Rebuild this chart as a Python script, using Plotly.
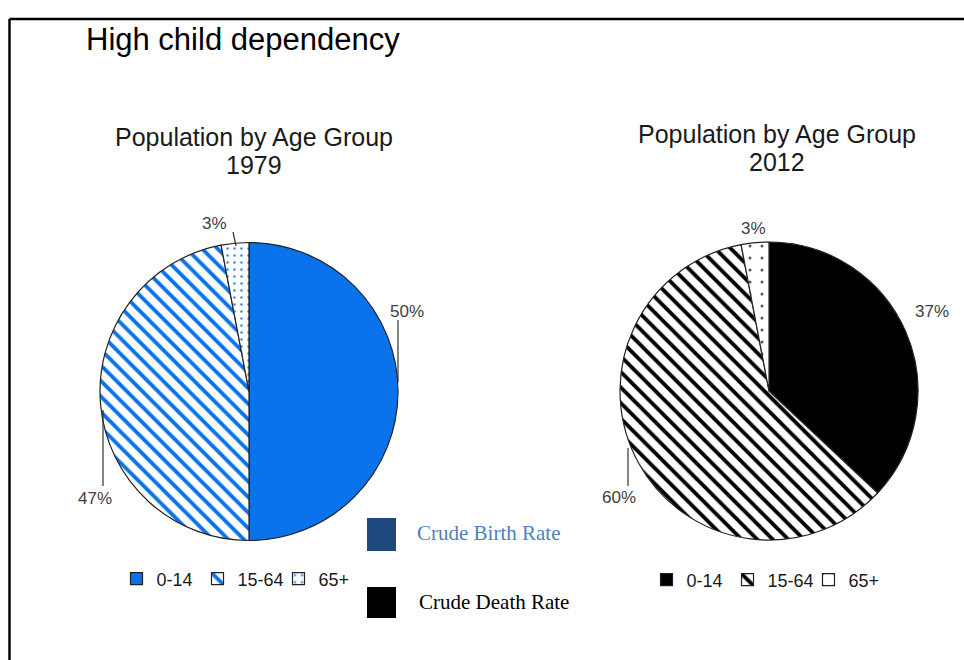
import plotly.graph_objects as go

W, H = 964, 660

groups = ["0-14", "15-64", "65+"]
share_1979 = [50, 47, 3]
share_2012 = [37, 60, 3]
title_main = "High child dependency"
sub_1979 = ["Population by Age Group", "1979"]
sub_2012 = ["Population by Age Group", "2012"]
key_labels = ["Crude Birth Rate", "Crude Death Rate"]


def px(x):
    return x / W


def py(y):
    return 1 - y / H


blue = "#0A72EA"
fig = go.Figure()

fig.add_trace(go.Pie(
    labels=groups, values=share_1979, sort=False, direction="clockwise", rotation=0,
    textinfo="none", hoverinfo="label+percent",
    domain=dict(x=[px(100), px(398)], y=[py(541), py(242)]),
    marker=dict(
        colors=[blue, "white", "white"],
        line=dict(color="#222222", width=1.2),
        pattern=dict(shape=["", "\\", "."], fgcolor=[blue, blue, "#3C86E6"],
                     bgcolor=[blue, "white", "white"], size=[10, 11, 7],
                     solidity=[0.3, 0.35, 0.1], fillmode="replace"),
    ),
    legend="legend", showlegend=True,
))

# zero-width space keeps the second pie's legend entries separate from the first
fig.add_trace(go.Pie(
    labels=[g + "\u200b" for g in groups], values=share_2012, sort=False,
    direction="clockwise", rotation=0,
    textinfo="none", hoverinfo="label+percent",
    domain=dict(x=[px(620), px(918)], y=[py(541), py(241)]),
    marker=dict(
        colors=["black", "white", "white"],
        line=dict(color="#222222", width=1.2),
        pattern=dict(shape=["", "\\", "."], fgcolor=["black", "black", "#555555"],
                     bgcolor=["black", "white", "white"], size=[10, 11, 12],
                     solidity=[0.3, 0.35, 0.05], fillmode="replace"),
    ),
    legend="legend2", showlegend=True,
))

anns = []
shapes = []
sans = "Liberation Sans, Arial"
lab_font = dict(family=sans, size=17, color="#404040")

# title
anns.append(dict(text=title_main, x=px(84), y=py(40), xref="paper", yref="paper",
                 xanchor="left", yanchor="middle", showarrow=False,
                 font=dict(family=sans, size=31, color="black")))
for lines, cx, y0 in [(sub_1979, 254, 137), (sub_2012, 777, 134)]:
    for i, t in enumerate(lines):
        anns.append(dict(text=t, x=px(cx), y=py(y0 + 28 * i), xref="paper", yref="paper",
                         xanchor="center", yanchor="middle", showarrow=False,
                         font=dict(family=sans, size=25, color="#1a1a1a")))

# percent labels
def lab(v, x, y):
    anns.append(dict(text=f"{v}%", x=px(x), y=py(y), xref="paper", yref="paper",
                     xanchor="center", yanchor="middle", showarrow=False, font=lab_font))

lab(share_1979[0], 407, 311)
lab(share_1979[1], 95, 498)
lab(share_1979[2], 214, 224)
lab(share_2012[0], 932, 312)
lab(share_2012[1], 619, 497)
lab(share_2012[2], 753, 228)

def seg(x0, y0, x1, y1, w=1.2, c="#333333"):
    shapes.append(dict(type="line", xref="paper", yref="paper", x0=px(x0), y0=py(y0),
                       x1=px(x1), y1=py(y1), line=dict(color=c, width=w)))

seg(398, 320, 398, 382)
seg(103, 486, 103, 410)
seg(233, 232, 236, 246)
seg(628, 486, 628, 448)

# border
seg(9.5, 19, 964, 19, w=2.5, c="black")
seg(9.5, 19, 9.5, 660, w=2.5, c="black")

# key boxes
shapes.append(dict(type="rect", xref="paper", yref="paper", x0=px(367), x1=px(396),
                   y0=py(551), y1=py(518), fillcolor="#1F497D", line=dict(width=0)))
shapes.append(dict(type="rect", xref="paper", yref="paper", x0=px(367), x1=px(396),
                   y0=py(618), y1=py(587), fillcolor="black", line=dict(width=0)))
serif = "Liberation Serif, Times New Roman"
anns.append(dict(text=key_labels[0], x=px(415), y=py(533), xref="paper", yref="paper",
                 xanchor="left", yanchor="middle", showarrow=False,
                 font=dict(family=serif, size=21, color="#4F81BD")))
anns.append(dict(text=key_labels[1], x=px(417), y=py(602), xref="paper", yref="paper",
                 xanchor="left", yanchor="middle", showarrow=False,
                 font=dict(family=serif, size=21, color="black")))

leg_common = dict(orientation="h", xanchor="center", yanchor="middle",
                  font=dict(family=sans, size=18, color="#1a1a1a"),
                  bgcolor="rgba(0,0,0,0)", itemwidth=30, tracegroupgap=0,
                  entrywidth=36, entrywidthmode="pixels",
                  itemclick=False, itemdoubleclick=False)

fig.update_layout(
    width=W, height=H,
    margin=dict(l=0, r=0, t=0, b=0),
    paper_bgcolor="white", plot_bgcolor="white",
    annotations=anns, shapes=shapes,
    legend=dict(x=px(238), y=py(579), **leg_common),
    legend2=dict(x=px(768), y=py(580), **leg_common),
)

fig.write_html("out.html", config={"displayModeBar": False},
               post_script="document.body.style.margin='0';")
